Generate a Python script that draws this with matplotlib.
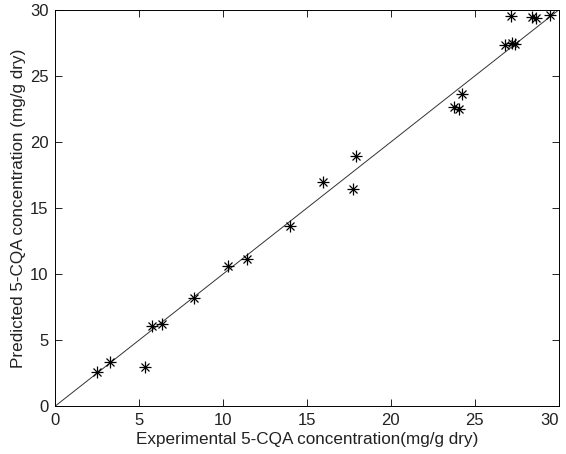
import matplotlib
matplotlib.use('Agg')
import matplotlib.pyplot as plt

# experimental vs predicted 5-CQA (mg/g dry)
experimental = [2.47, 3.25, 5.35, 5.73, 6.38, 8.25, 10.29, 11.39, 14.0, 15.95,
                17.74, 17.94, 23.79, 24.03, 24.25, 26.79, 27.17, 27.23, 27.41,
                28.42, 28.66, 29.51]
predicted = [2.6, 3.3, 2.95, 6.05, 6.2, 8.2, 10.6, 11.15, 13.65, 16.95,
             16.45, 18.9, 22.67, 22.5, 23.6, 27.35, 29.55, 27.5, 27.45,
             29.45, 29.42, 29.64]
ref_line = [0, 30]

plt.rcParams['font.family'] = ['Liberation Sans', 'DejaVu Sans']

fig = plt.figure(figsize=(5.66, 4.54), dpi=100)
ax = fig.add_axes([0.098, 0.106, 0.889, 0.872])

ax.plot(ref_line, ref_line, color='#333333', linewidth=0.7)
# MATLAB-style asterisk: a plus with a cross on top
ax.plot(experimental, predicted, linestyle='none', marker='+', color='black',
        markersize=8.5, markeredgewidth=0.9)
ax.plot(experimental, predicted, linestyle='none', marker='x', color='black',
        markersize=5.5, markeredgewidth=0.9)

ax.set_xlim(0, 30)
ax.set_ylim(0, 30)
ax.set_xticks(range(0, 31, 5))
ax.set_yticks(range(0, 31, 5))
ax.tick_params(direction='in', top=True, right=True, length=5, width=0.7,
               labelsize=12, colors='#222222', pad=5)
for s in ax.spines.values():
    s.set_linewidth(0.7)

# keep the last x label inside the figure, as MATLAB does
ax.get_xticklabels()[-1].set_horizontalalignment('right')

ax.set_xlabel('Experimental 5-CQA concentration(mg/g dry)', fontsize=12.3, labelpad=3,
              color='#222222')
ax.set_ylabel('Predicted 5-CQA concentration (mg/g dry)', fontsize=12.3, labelpad=3,
              color='#222222')

plt.savefig('out.png', dpi=100)
